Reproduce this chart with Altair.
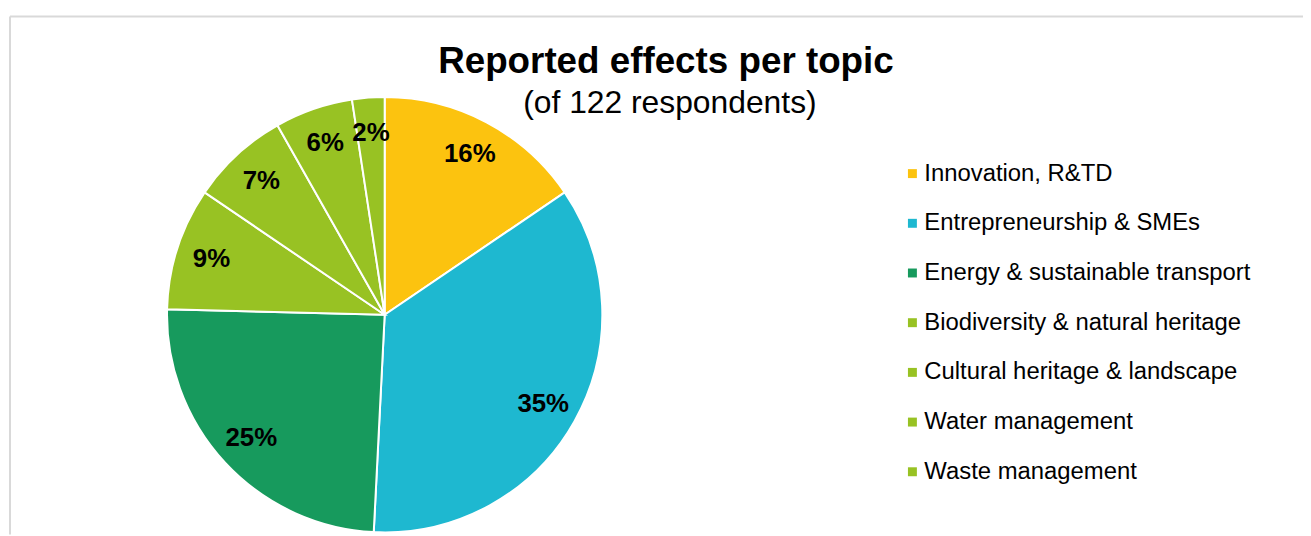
import altair as alt
import pandas as pd

categories = [
    "Innovation, R&TD",
    "Entrepreneurship & SMEs",
    "Energy & sustainable transport",
    "Biodiversity & natural heritage",
    "Cultural heritage & landscape",
    "Water management",
    "Waste management",
]
values = [15.5, 35.3, 24.6, 9.1, 7.3, 5.8, 2.4]
labels = ["16%", "35%", "25%", "9%", "7%", "6%", "2%"]
colors = ["#FCC30F", "#1EB8D0", "#179A5D", "#98C223", "#98C223", "#98C223", "#98C223"]

title_text = "Reported effects per topic"
subtitle_text = "(of 122 respondents)"

FONT = "Liberation Sans"
W, H = 1301, 521
CX, CY, R = 377, 300, 219

df = pd.DataFrame({
    "topic": categories,
    "value": values,
    "label": labels,
    "idx": list(range(len(categories))),
})

base = alt.Chart(df).encode(
    theta=alt.Theta("value:Q", stack=True),
    order=alt.Order("idx:Q"),
)

arcs = base.mark_arc(outerRadius=R, stroke="white", strokeWidth=2).encode(
    x=alt.value(CX),
    y=alt.value(CY),
    color=alt.Color(
        "topic:N",
        scale=alt.Scale(domain=categories, range=colors),
        legend=alt.Legend(
            title=None,
            orient="none",
            legendX=896,
            legendY=146,
            symbolType="square",
            symbolSize=81,
            symbolStrokeWidth=0,
            labelFont=FONT,
            labelFontSize=24,
            labelColor="#000000",
            labelOffset=0,
            rowPadding=26,
            padding=0,
            labelLimit=500,
        ),
    ),
)

texts = base.mark_text(
    radius=183, fontSize=26, fontWeight="bold", font=FONT, color="#000000"
).encode(
    x=alt.value(CX),
    y=alt.value(CY),
    text="label:N",
)

title = alt.Chart(pd.DataFrame({"t": [title_text]})).mark_text(
    font=FONT, fontSize=37, fontWeight="bold", color="#000000", align="center", baseline="alphabetic"
).encode(x=alt.value(660), y=alt.value(57), text="t:N")

subtitle = alt.Chart(pd.DataFrame({"t": [subtitle_text]})).mark_text(
    font=FONT, fontSize=32, color="#000000", align="center", baseline="alphabetic"
).encode(x=alt.value(664), y=alt.value(97), text="t:N")

border_df = pd.DataFrame({"a": [0]})
top_rule = alt.Chart(border_df).mark_rule(color="#D9D9D9", strokeWidth=2).encode(
    x=alt.value(0), x2=alt.value(W), y=alt.value(0)
)
left_rule = alt.Chart(border_df).mark_rule(color="#D9D9D9", strokeWidth=2).encode(
    x=alt.value(0), y=alt.value(0), y2=alt.value(H)
)

chart = alt.layer(top_rule, left_rule, arcs, texts, title, subtitle).properties(
    width=W,
    height=H,
    padding={"left": 2, "top": 7, "right": 0, "bottom": 0},
    autosize=alt.AutoSizeParams(type="none"),
).configure_view(strokeWidth=0)

chart.save("out.html", embed_options={"renderer": "svg", "actions": False})
